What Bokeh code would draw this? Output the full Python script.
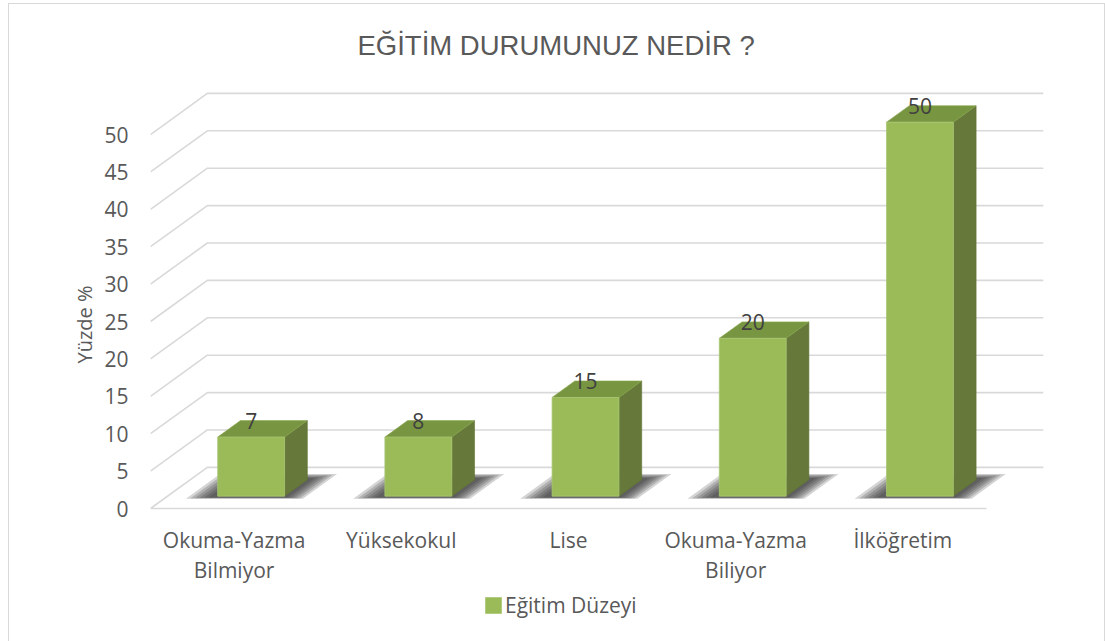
from bokeh.plotting import figure
from bokeh.models import (Range1d, FixedTicker, LinearAxis, Legend, LegendItem,
                          ColumnDataSource, Title)
from bokeh.core.properties import value
from bokeh.embed import file_html
from bokeh.resources import INLINE

# ---------------- data ----------------
title_text = "EĞİTİM DURUMUNUZ NEDİR ?"
categories = ["Okuma-Yazma\nBilmiyor", "Yüksekokul", "Lise", "Okuma-Yazma\nBiliyor", "İlköğretim"]
values = [7.9, 7.9, 13.2, 21.1, 50.0]
value_labels = ["7", "8", "15", "20", "50"]
y_ticks = [0, 5, 10, 15, 20, 25, 30, 35, 40, 45, 50]
series_name = "Eğitim Düzeyi"
y_title = "Yüzde %"

# ---------------- style (3-D oblique look) ----------------
DX, DY = 0.34, 5.5      # depth offset of the back wall (x units, value units)
F1, F2 = 0.30, 0.70     # bar front / back depth fraction
BW = 0.40               # bar width (category units)
FRONT, TOP, SIDE = "#9BBB59", "#789641", "#66793A"
GRID = "#d9d9d9"
TXT = "#595959"
FONT = "Open Sans"
FS = "21px"

N = len(categories)
p = figure(width=1105, height=641, output_backend="svg", toolbar_location=None,
           x_range=Range1d(0, 5.383), y_range=Range1d(-17.78, 58.56),
           x_axis_type=None, y_axis_type=None,
           min_border_left=150, min_border_right=55, min_border_top=70, min_border_bottom=0)
p.outline_line_color = None
p.background_fill_color = "white"
p.border_fill_alpha = 0
line_bg = "linear-gradient(#d9d9d9, #d9d9d9)"
p.styles = {
    "background": (f"{line_bg} 8px 3px / 1px 640px no-repeat, "
                   f"{line_bg} 8px 3px / 1097px 1px no-repeat, "
                   f"{line_bg} 1104px 3px / 1px 640px no-repeat, white"),
}

p.title.text = title_text
p.title.align = "left"
p.title.offset = 207
p.title.standoff = 20
p.title.text_font = "Liberation Sans"
p.title.text_font_size = "27.5px"
p.title.text_font_style = "normal"
p.title.text_color = TXT

# y axis
yax = LinearAxis(ticker=FixedTicker(ticks=y_ticks))
yax.axis_line_color = None
yax.major_tick_line_color = None
yax.minor_tick_line_color = None
yax.major_tick_out = 0
yax.major_tick_in = 0
yax.major_label_standoff = 22
yax.major_label_text_font = FONT
yax.major_label_text_font_size = FS
yax.major_label_text_color = TXT
p.add_layout(yax, "left")

ytitle = Title(text=y_title, align="left", offset=278, standoff=8,
               text_font=FONT, text_font_size="20px", text_font_style="normal",
               text_color=TXT)
p.add_layout(ytitle, "left")

centers = [i + 0.5 for i in range(N)]

# gridlines: side wall diagonal + back wall
gx, gy = [], []
for t in y_ticks:
    gx.append([0, DX, N + DX])
    gy.append([t, t + DY, t + DY])
p.multi_line(gx, gy, line_color=GRID, line_width=1.6)
p.line([0, N], [0, 0], line_color=GRID, line_width=1.6)

# soft shadows on the floor
LAYERS = 6
sx, sy = [], []
for k in range(LAYERS):
    s = 1 - k / LAYERS
    for c in centers:
        b0 = c - BW / 2 - 0.02 - s * 0.15
        b1 = c + BW / 2 + 0.01 + s * 0.12
        f0 = F1 - 0.03 - s * 0.03
        fb = F2 + 0.02 + s * 0.12
        sx.append([b0 + f0 * DX, b1 + f0 * DX, b1 + fb * DX, b0 + fb * DX])
        sy.append([f0 * DY, f0 * DY, fb * DY, fb * DY])
p.patches(sx, sy, fill_color="#2a2a2a", fill_alpha=0.2, line_color=None)

# bars
bd = F2 - F1
src = ColumnDataSource(dict(
    left=[c - BW / 2 + F1 * DX for c in centers],
    right=[c + BW / 2 + F1 * DX for c in centers],
    bottom=[F1 * DY] * N,
    top=[F1 * DY + v for v in values],
))
side_x, side_y, top_x, top_y = [], [], [], []
for c, v in zip(centers, values):
    x0 = c - BW / 2 + F1 * DX
    x1 = c + BW / 2 + F1 * DX
    y0 = F1 * DY
    y1 = F1 * DY + v
    side_x.append([x1, x1 + bd * DX, x1 + bd * DX, x1])
    side_y.append([y0, y0 + bd * DY, y1 + bd * DY, y1])
    top_x.append([x0, x1, x1 + bd * DX, x0 + bd * DX])
    top_y.append([y1, y1, y1 + bd * DY, y1 + bd * DY])
p.patches(side_x, side_y, fill_color=SIDE, line_color="#5f7233", line_width=0.6)
p.patches(top_x, top_y, fill_color=TOP, line_color="#88a64c", line_width=0.6)
front = p.quad(left="left", right="right", bottom="bottom", top="top", source=src,
               fill_color=FRONT, line_color="#aac775", line_width=0.8)

# data labels
p.text(x=[c + F1 * DX for c in centers], y=[F1 * DY + v + bd * DY for v in values],
       text=value_labels, text_align="center", text_baseline="alphabetic",
       text_font=value(FONT), text_font_size=FS, text_color="#404040")

# category labels under the floor
p.text(x=centers, y=[0] * N, text=categories, text_align="center", text_baseline="top",
       y_offset=17, text_line_height=1.08,
       text_font=value(FONT), text_font_size=FS, text_color=TXT)

p.xgrid.visible = False
p.ygrid.visible = False

legend = Legend(items=[LegendItem(label=series_name, renderers=[front])],
                orientation="horizontal", location=(333, 22),
                border_line_color=None, background_fill_alpha=0,
                glyph_width=20, glyph_height=20, label_standoff=2,
                padding=0, margin=0, spacing=0,
                label_text_font=FONT, label_text_font_size=FS, label_text_color=TXT)
p.add_layout(legend)

open("out.html", "w").write(file_html(p, INLINE))
